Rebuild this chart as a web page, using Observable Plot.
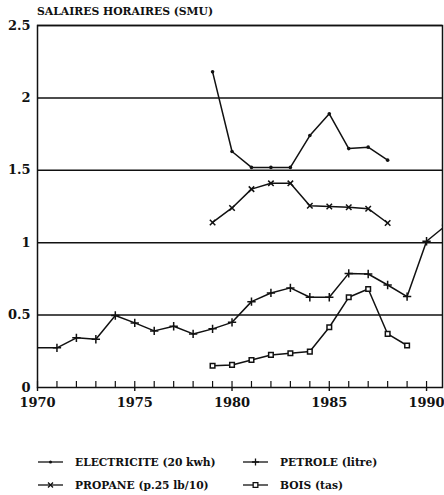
<!DOCTYPE html>
<html><head><meta charset="utf-8">
<script src="https://cdn.jsdelivr.net/npm/d3@7"></script>
<script src="https://cdn.jsdelivr.net/npm/@observablehq/plot@0.6"></script>
<style>
body{margin:0;background:#fff;}
#c{position:relative;width:444px;height:495px;font-family:'DejaVu Serif',serif;font-weight:700;color:#111;}
#title{position:absolute;left:37px;top:5px;font-size:10.8px;white-space:nowrap;}
#chart{position:absolute;left:0;top:0;}
.lg{position:absolute;display:flex;align-items:center;font-size:10.7px;white-space:nowrap;}
.lg svg{margin-right:12px;}
</style></head><body>
<div id="c"><div id="chart"></div><div id="title"></div></div>
<script>
// ---- data ----
const titleText = "SALAIRES HORAIRES (SMU)";
const xTickLabels = [1970, 1975, 1980, 1985, 1990];
const yTickLabels = [0, 0.5, 1, 1.5, 2, 2.5];

const elecYears  = [1979, 1980, 1981, 1982, 1983, 1984, 1985, 1986, 1987, 1988];
const elecValues = [2.18, 1.63, 1.52, 1.52, 1.52, 1.74, 1.89, 1.65, 1.66, 1.57];

const propYears  = [1979, 1980, 1981, 1982, 1983, 1984, 1985, 1986, 1987, 1988];
const propValues = [1.14, 1.24, 1.37, 1.41, 1.41, 1.255, 1.25, 1.245, 1.235, 1.136];

const petrYears  = [1970, 1971, 1972, 1973, 1974, 1975, 1976, 1977, 1978, 1979, 1980, 1981, 1982, 1983, 1984, 1985, 1986, 1987, 1988, 1989, 1990, 1991];
const petrValues = [0.274, 0.274, 0.343, 0.333, 0.497, 0.446, 0.391, 0.423, 0.370, 0.405, 0.45, 0.593, 0.653, 0.688, 0.623, 0.623, 0.788, 0.784, 0.708, 0.628, 1.01, 1.12];

const boisYears  = [1979, 1980, 1981, 1982, 1983, 1984, 1985, 1986, 1987, 1988, 1989];
const boisValues = [0.15, 0.156, 0.19, 0.225, 0.237, 0.248, 0.416, 0.623, 0.68, 0.37, 0.29];

const seriesNames = ["ELECTRICITE (20 kwh)", "PETROLE (litre)", "PROPANE (p.25 lb/10)", "BOIS (tas)"];

const rows = (ys, vs) => ys.map((y, i) => ({year: y, value: vs[i]}));
const elec = rows(elecYears, elecValues);
const prop = rows(propYears, propValues);
const petr = rows(petrYears, petrValues);
const bois = rows(boisYears, boisValues);
const allYears = d3.range(xTickLabels[0], xTickLabels[xTickLabels.length - 1] + 1);

document.getElementById("title").textContent = titleText;

const ink = "#111";
const lineOpts = {x: "year", y: "value", stroke: ink, strokeWidth: 1.5, clip: true};

const plot = Plot.plot({
  width: 444, height: 420,
  marginLeft: 37, marginRight: 2, marginTop: 25, marginBottom: 33,
  x: {domain: [1970, 1990.82]},
  y: {domain: [0, 2.5]},
  style: {fontFamily: "'DejaVu Serif',serif", fontWeight: "700", fontSize: "13px", background: "transparent", color: ink, overflow: "visible"},
  marks: [
    Plot.ruleY(yTickLabels.filter(d => d > 0), {stroke: ink, strokeWidth: 1.5}),
    Plot.frame({stroke: ink, strokeWidth: 1.5}),
    Plot.axisY({ticks: yTickLabels, tickSize: 0, tickPadding: 7, tickFormat: d => String(d), label: null}),
    Plot.axisX({ticks: allYears, tickSize: -6, tickFormat: () => "", label: null, strokeWidth: 1.2}),
    Plot.axisX({ticks: xTickLabels, tickSize: 4, tickPadding: 6, tickFormat: d => String(d), label: null, strokeWidth: 1.4}),
    Plot.line(elec, lineOpts),
    Plot.line(prop, lineOpts),
    Plot.line(petr, lineOpts),
    Plot.line(bois, lineOpts),
    Plot.dot(elec, {x: "year", y: "value", r: 1.8, fill: ink, clip: true}),
    Plot.dot(prop, {x: "year", y: "value", symbol: "times", r: 2.6, stroke: ink, strokeWidth: 1.5, clip: true}),
    Plot.dot(petr.filter(d => d.year > 1970), {x: "year", y: "value", symbol: "plus", r: 2.8, stroke: ink, strokeWidth: 1.5, clip: true}),
    Plot.dot(bois, {x: "year", y: "value", symbol: "square", r: 2.6, fill: "white", stroke: ink, strokeWidth: 1.5, clip: true})
  ]
});
document.getElementById("chart").appendChild(plot);

// ---- legend (below the plot) ----
const legendItems = [
  {name: seriesNames[0], sym: null, left: 38, top: 462},
  {name: seriesNames[1], sym: d3.symbolPlus, left: 243, top: 462},
  {name: seriesNames[2], sym: d3.symbolTimes, left: 38, top: 485},
  {name: seriesNames[3], sym: d3.symbolSquare, left: 243, top: 485}
];
const c = d3.select("#c");
legendItems.forEach(it => {
  const div = c.append("div").attr("class", "lg").style("left", it.left + "px").style("top", (it.top - 7) + "px").style("height", "14px");
  const svg = div.append("svg").attr("width", 25).attr("height", 14);
  svg.append("line").attr("x1", 0).attr("x2", 25).attr("y1", 7).attr("y2", 7).attr("stroke", ink).attr("stroke-width", 1.3);
  if (it.sym === null) {
    svg.append("circle").attr("cx", 12.5).attr("cy", 7).attr("r", 1.5).attr("fill", ink);
  } else {
    const isSq = it.sym === d3.symbolSquare;
    svg.append("path").attr("transform", "translate(12.5,7)")
      .attr("d", d3.symbol(it.sym, isSq ? 22 : 18)())
      .attr("fill", isSq ? "white" : "none").attr("stroke", ink).attr("stroke-width", 1.3);
  }
  div.append("span").text(it.name);
});
</script>
</body></html>
